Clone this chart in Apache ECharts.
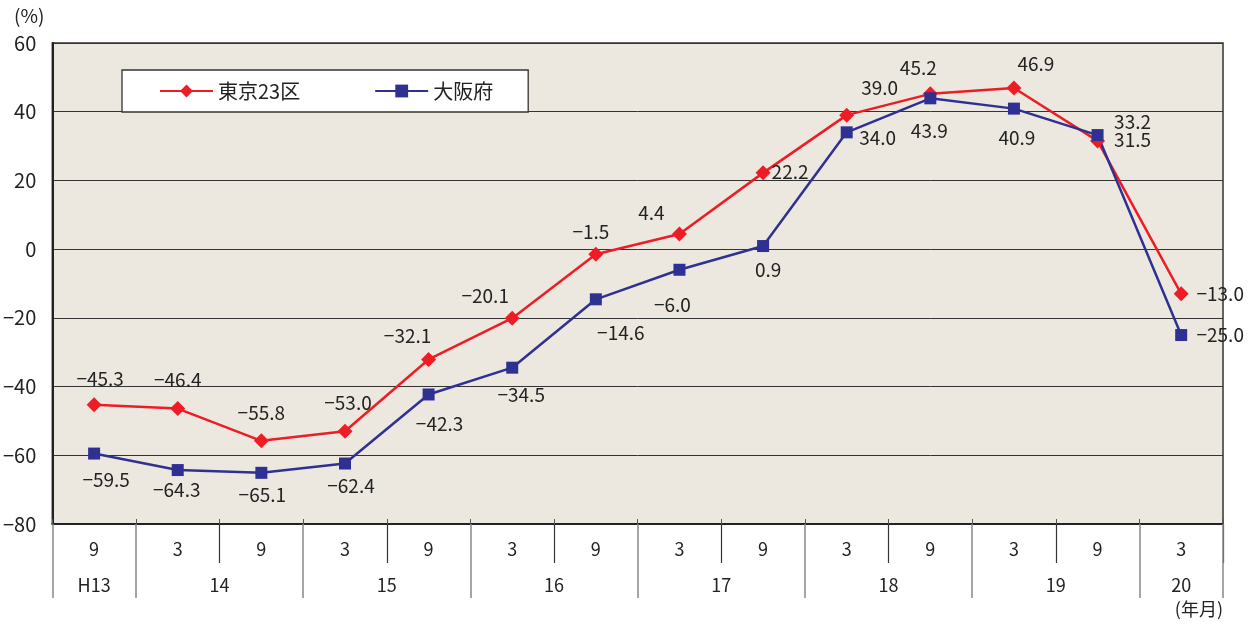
<!DOCTYPE html>
<html lang="ja">
<head>
<meta charset="utf-8">
<title>東京23区・大阪府</title>
<script src="https://cdn.jsdelivr.net/npm/echarts@6/dist/echarts.min.js"></script>
<style>
  html, body { margin: 0; padding: 0; background: #fff; }
  #main { width: 1257px; height: 625px; }
</style>
</head>
<body>
<div id="main"></div>
<script>
// 年月（横軸）
const months = ['9', '3', '9', '3', '9', '3', '9', '3', '9', '3', '9', '3', '9', '3'];
const years = ['H13', '14', '14', '15', '15', '16', '16', '17', '17', '18', '18', '19', '19', '20'];

// 系列データ (%)
const tokyo = [-45.3, -46.4, -55.8, -53.0, -32.1, -20.1, -1.5, 4.4, 22.2, 39.0, 45.2, 46.9, 31.5, -13.0];
const osaka = [-59.5, -64.3, -65.1, -62.4, -42.3, -34.5, -14.6, -6.0, 0.9, 34.0, 43.9, 40.9, 33.2, -25.0];

// 縦軸
const yMin = -80, yMax = 60, yStep = 20;

// ラベルのずらし量 [dx, dy]
const tokyoOff = [[6,-26],[0,-29],[0,-28],[3,-28],[-21,-24],[-27,-22],[-5,-23],[-28,-21],[27,-1],[33,-27],[-12,-26],[22,-24],[35,-1],[39,0]];
const osakaOff = [[12,26],[-1,20],[1,22],[6,22],[11,29],[9,27],[25,33],[-7,35],[5,24],[31,5],[-1,32],[3,29],[35,-13],[39,0]];

// 年の区切り（半目盛り単位）
let half = new Array(months.length * 2 + 1).fill('');
let yearTicks = {};
yearTicks[0] = true;
yearTicks[months.length * 2] = true;
let s = 0;
for (let i = 1; i <= years.length; i++) {
  if (i == years.length || years[i] != years[s]) {
    half[s * 2 + (i - s)] = years[s];
    yearTicks[s * 2] = true;
    s = i;
  }
}

function fmt(v) {
  return (v < 0 ? '\u2212' : '') + Math.abs(v).toFixed(1);
}

function mkData(vals, offs) {
  return vals.map(function (v, i) {
    return { value: v, label: { offset: offs[i] } };
  });
}

const chart = echarts.init(document.getElementById('main'));
const font = '"Noto Sans CJK JP", "Noto Sans", sans-serif';

const option = {
  animation: false,
  textStyle: { fontFamily: font, color: '#222' },
  grid: {
    left: 52, right: 34, top: 43, bottom: 101,
    show: true,
    backgroundColor: '#ece8df',
    borderColor: '#333',
    borderWidth: 1.5
  },
  legend: {
    left: 122, top: 70,
    backgroundColor: '#fff',
    borderColor: '#333',
    borderWidth: 1.3,
    padding: [11, 35, 11, 37],
    itemWidth: 53,
    itemHeight: 16,
    itemGap: 74,
    textStyle: { fontSize: 20, color: '#222', fontFamily: font },
    data: ['東京23区', '大阪府']
  },
  xAxis: [{
    type: 'category',
    data: months,
    position: 'bottom',
    offset: 0,
    boundaryGap: true,
    axisLine: { onZero: false, lineStyle: { color: '#222', width: 2 } },
    axisTick: {
      show: true, length: 39,
      interval: function (i) { return i % 2 == 0 && i > 0; },
      lineStyle: { color: '#333', width: 1.2 }
    },
    axisLabel: { fontSize: 18, color: '#222', fontFamily: font, margin: 16, interval: 0 }
  }, {
    type: 'category',
    data: half,
    position: 'bottom',
    offset: 0,
    boundaryGap: false,
    axisLine: { show: false, onZero: false },
    axisTick: {
      show: true, length: 74,
      interval: function (i) { return !!yearTicks[i]; },
      lineStyle: { color: '#888', width: 1.5 }
    },
    axisLabel: {
      fontSize: 18, color: '#222', fontFamily: font, margin: 52,
      interval: function (i, v) { return v !== ''; }
    }
  }, {
    type: 'category',
    data: months,
    position: 'bottom',
    offset: 0,
    boundaryGap: true,
    axisLine: { show: false, onZero: false },
    axisTick: { show: true, inside: true, length: 5, interval: 0, lineStyle: { color: '#555' } },
    axisLabel: { show: false }
  }],
  yAxis: {
    type: 'value',
    min: yMin, max: yMax, interval: yStep,
    name: '(%)',
    nameLocation: 'end',
    nameGap: 18,
    nameTextStyle: { fontSize: 19, color: '#222', fontFamily: font, align: 'right', padding: [0, 8, 0, 0] },
    axisLine: { show: true, lineStyle: { color: '#222', width: 2 } },
    axisTick: { show: false },
    axisLabel: {
      fontSize: 20, color: '#222', fontFamily: font, margin: 16,
      formatter: function (v) { return v < 0 ? '\u2212' + Math.abs(v) : String(v); }
    },
    splitLine: { lineStyle: { color: '#333', width: 1 } }
  },
  graphic: [{
    type: 'text',
    right: 34, top: 600,
    style: { text: '(年月)', fontSize: 18, fill: '#222', fontFamily: font }
  }],
  series: [{
    name: '東京23区',
    type: 'line',
    data: mkData(tokyo, tokyoOff),
    symbol: 'diamond',
    symbolSize: 15,
    color: '#ee1c25',
    lineStyle: { width: 2.5, color: '#ee1c25' },
    itemStyle: { color: '#ee1c25' },
    label: {
      show: true, position: 'inside', fontSize: 19, color: '#222', fontFamily: font,
      formatter: function (p) { return fmt(p.value); }
    }
  }, {
    name: '大阪府',
    type: 'line',
    data: mkData(osaka, osakaOff),
    symbol: 'rect',
    symbolSize: 12,
    color: '#2e3192',
    lineStyle: { width: 2.5, color: '#2e3192' },
    itemStyle: { color: '#2e3192' },
    label: {
      show: true, position: 'inside', fontSize: 19, color: '#222', fontFamily: font,
      formatter: function (p) { return fmt(p.value); }
    }
  }]
};

chart.setOption(option);
</script>
</body>
</html>
